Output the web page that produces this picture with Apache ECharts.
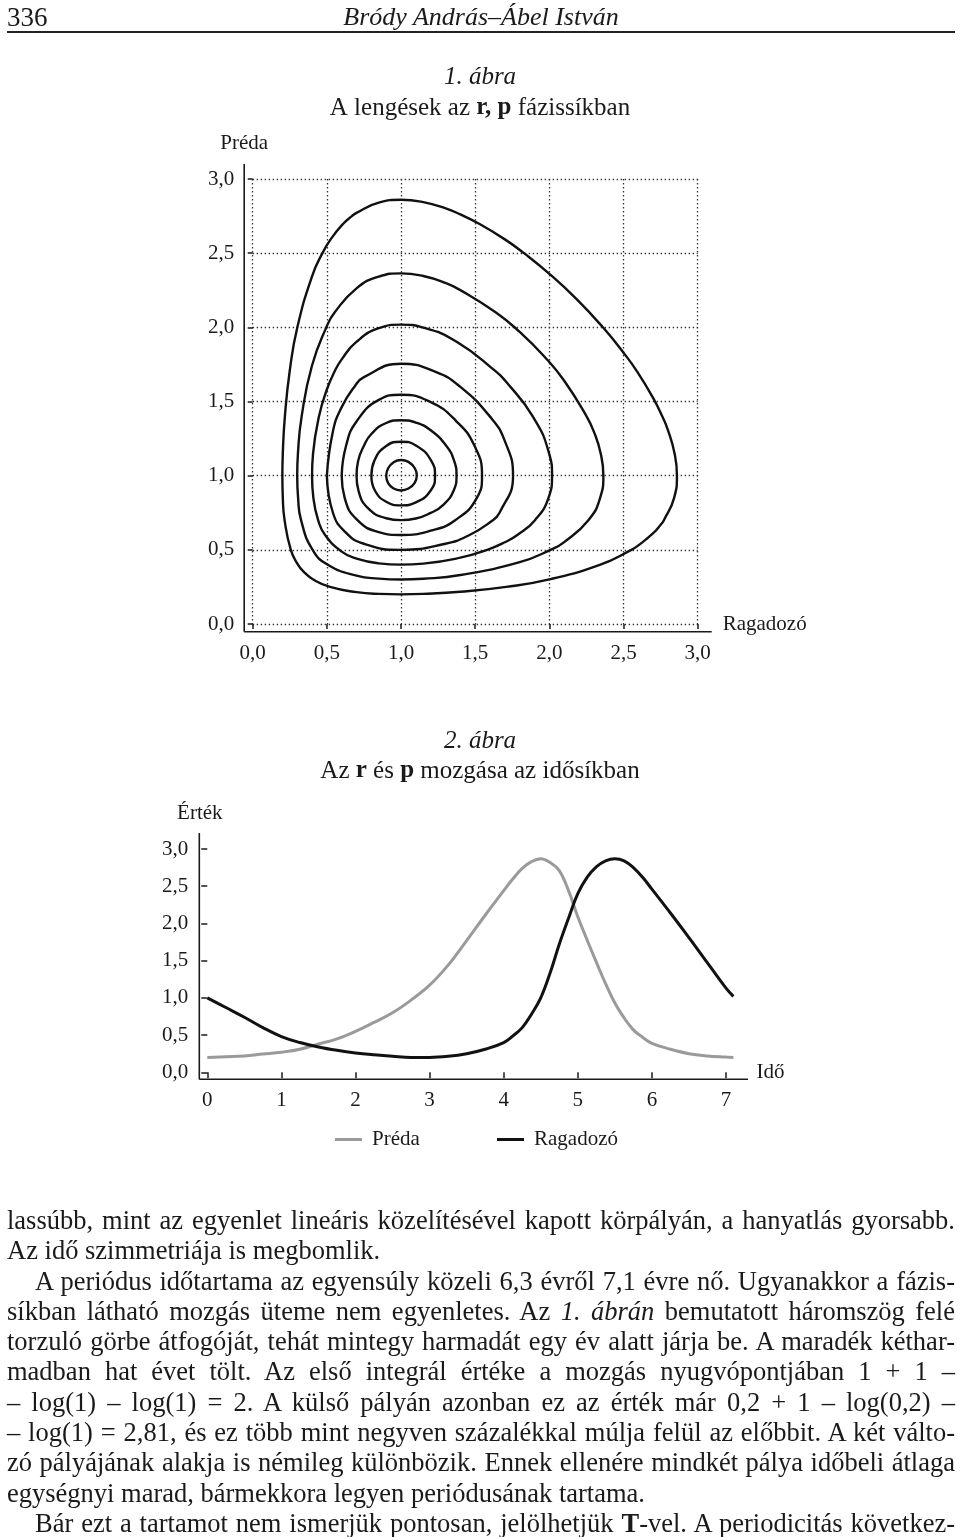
<!DOCTYPE html>
<html lang="hu">
<head>
<meta charset="utf-8">
<script src="https://cdn.jsdelivr.net/npm/echarts@6/dist/echarts.min.js"></script>
<style>
  html, body { margin: 0; padding: 0; background: #fff; }
  #page { position: relative; width: 960px; height: 1537px; overflow: hidden; }
  #chart { position: absolute; left: 0; top: 0; width: 960px; height: 1537px; }
  .serif { font-family: 'Liberation Serif', 'Times New Roman', 'DejaVu Serif', serif; color: #1a1a1a; }
  #pagenum { position: absolute; left: 7px; top: 2px; font-size: 27px; line-height: 30px; }
  #runhead { position: absolute; left: 0; width: 962px; top: 2px; text-align: center; font-size: 26px; line-height: 30px; font-style: italic; }
  #rule { position: absolute; left: 7px; width: 948px; top: 31px; height: 2px; background: #222; }
  #bodytext { position: absolute; left: 7px; width: 948px; top: 1205px; font-size: 26.5px; }
  .l { height: 30.3px; line-height: 30.3px; white-space: nowrap; }
  .j { text-align: justify; text-align-last: justify; }
  .ind { padding-left: 28px; }
</style>
</head>
<body>
<div id="page">
  <div id="chart"></div>
  <div id="pagenum" class="serif">336</div>
  <div id="runhead" class="serif">Bródy András–Ábel István</div>
  <div id="rule"></div>
  <div id="bodytext" class="serif">
    <div class="l j">lassúbb, mint az egyenlet lineáris közelítésével kapott körpályán, a hanyatlás gyorsabb.</div>
    <div class="l">Az idő szimmetriája is megbomlik.</div>
    <div class="l j ind">A periódus időtartama az egyensúly közeli 6,3 évről 7,1 évre nő. Ugyanakkor a fázis-</div>
    <div class="l j">síkban látható mozgás üteme nem egyenletes. Az <i>1. ábrán</i> bemutatott háromszög felé</div>
    <div class="l j">torzuló görbe átfogóját, tehát mintegy harmadát egy év alatt járja be. A maradék kéthar-</div>
    <div class="l j">madban hat évet tölt. Az első integrál értéke a mozgás nyugvópontjában 1 + 1 –</div>
    <div class="l j">– log(1) – log(1) = 2. A külső pályán azonban ez az érték már 0,2 + 1 – log(0,2) –</div>
    <div class="l j">– log(1) = 2,81, és ez több mint negyven százalékkal múlja felül az előbbit. A két válto-</div>
    <div class="l j">zó pályájának alakja is némileg különbözik. Ennek ellenére mindkét pálya időbeli átlaga</div>
    <div class="l">egységnyi marad, bármekkora legyen periódusának tartama.</div>
    <div class="l j ind">Bár ezt a tartamot nem ismerjük pontosan, jelölhetjük <b>T</b>-vel. A periodicitás következ-</div>
  </div>
</div>
<script>
// ---------- DATA ----------
// Figure 1: phase-plane orbits, points [Ragadozó, Préda]
const orbit1 = [[0.2,1],[0.203,1.15],[0.217,1.4],[0.25,1.709],[0.301,2],[0.4,2.344],[0.47,2.5],[0.53,2.6],[0.612,2.7],[0.669,2.75],[0.7,2.772],[0.85,2.841],[1,2.86],[1.15,2.844],[1.306,2.8],[1.4,2.761],[1.523,2.7],[1.7,2.593],[1.829,2.5],[2,2.361],[2.187,2.187],[2.361,2],[2.5,1.829],[2.593,1.7],[2.7,1.523],[2.761,1.4],[2.8,1.306],[2.844,1.15],[2.86,1],[2.841,0.85],[2.772,0.7],[2.75,0.669],[2.7,0.612],[2.6,0.53],[2.553,0.5],[2.344,0.4],[2,0.301],[1.709,0.25],[1.4,0.217],[1.15,0.203],[1,0.2],[0.85,0.203],[0.7,0.215],[0.521,0.25],[0.408,0.3],[0.348,0.348],[0.305,0.4],[0.257,0.5],[0.215,0.7],[0.203,0.85],[0.2,1]];
const orbit2 = [[0.3,1],[0.305,1.15],[0.33,1.4],[0.4,1.743],[0.5,2.008],[0.552,2.1],[0.7,2.263],[0.85,2.342],[1,2.364],[1.15,2.346],[1.297,2.3],[1.4,2.251],[1.64,2.1],[1.8,1.969],[1.969,1.8],[2.1,1.64],[2.251,1.4],[2.3,1.297],[2.346,1.15],[2.364,1],[2.342,0.85],[2.263,0.7],[2.1,0.552],[2.008,0.5],[1.8,0.417],[1.4,0.33],[1.15,0.305],[1,0.3],[0.85,0.306],[0.7,0.326],[0.506,0.4],[0.404,0.5],[0.326,0.7],[0.306,0.85],[0.3,1]];
const orbit3 = [[0.4,1],[0.407,1.15],[0.447,1.4],[0.5,1.581],[0.551,1.7],[0.6,1.784],[0.697,1.9],[0.85,1.994],[1,2.018],[1.15,1.998],[1.38,1.9],[1.643,1.7],[1.7,1.643],[1.888,1.4],[1.998,1.15],[2.018,1],[1.994,0.85],[1.903,0.7],[1.784,0.6],[1.7,0.551],[1.581,0.5],[1.4,0.447],[1.15,0.407],[1,0.4],[0.85,0.409],[0.7,0.441],[0.6,0.488],[0.488,0.6],[0.441,0.7],[0.409,0.85],[0.4,1]];
const orbit4 = [[0.5,1],[0.541,1.3],[0.6,1.462],[0.686,1.6],[0.75,1.664],[1,1.755],[1.233,1.7],[1.398,1.6],[1.6,1.398],[1.7,1.233],[1.755,1],[1.664,0.75],[1.6,0.686],[1.462,0.6],[1.3,0.541],[1,0.5],[0.75,0.541],[0.622,0.622],[0.541,0.75],[0.5,1]];
const orbit5 = [[0.6,1],[0.629,1.2],[0.7,1.365],[0.85,1.511],[1,1.546],[1.2,1.496],[1.37,1.37],[1.496,1.2],[1.546,1],[1.511,0.85],[1.365,0.7],[1.2,0.629],[1,0.6],[0.85,0.62],[0.703,0.703],[0.62,0.85],[0.6,1]];
const orbit6 = [[0.7,1],[0.711,1.1],[0.749,1.2],[0.8,1.281],[0.9,1.355],[1,1.374],[1.1,1.358],[1.2,1.306],[1.306,1.2],[1.358,1.1],[1.374,1],[1.355,0.9],[1.281,0.8],[1.2,0.749],[1.1,0.711],[1,0.7],[0.9,0.713],[0.779,0.779],[0.713,0.9],[0.7,1]];
const orbit7 = [[0.8,1],[0.82,1.1],[0.9,1.2],[1,1.229],[1.1,1.204],[1.204,1.1],[1.229,1],[1.2,0.9],[1.1,0.82],[1,0.8],[0.9,0.824],[0.824,0.9],[0.8,1]];
const orbit8 = [[0.9,1],[0.913,1.05],[0.95,1.091],[1,1.106],[1.05,1.093],[1.093,1.05],[1.106,1],[1.091,0.95],[1.05,0.913],[1,0.9],[0.95,0.913],[0.913,0.95],[0.9,1]];
const orbits = [orbit1, orbit2, orbit3, orbit4, orbit5, orbit6, orbit7, orbit8];

// Figure 2: time series
const time     = [0,0.25,0.5,0.75,1,1.25,1.5,1.75,2,2.25,2.5,2.75,3,3.25,3.5,3.75,4,4.125,4.25,4.375,4.5,4.625,4.75,4.875,5,5.125,5.25,5.375,5.5,5.625,5.75,5.875,6,6.25,6.5,6.75,7,7.1];
const preda    = [0.20,0.21,0.22,0.245,0.27,0.31,0.38,0.45,0.55,0.67,0.80,0.97,1.17,1.44,1.77,2.11,2.44,2.60,2.74,2.83,2.87,2.82,2.71,2.44,2.09,1.78,1.48,1.19,0.93,0.73,0.57,0.47,0.39,0.31,0.25,0.22,0.205,0.20];
const ragadozo = [1.00,0.87,0.74,0.60,0.48,0.40,0.34,0.295,0.26,0.235,0.215,0.20,0.20,0.215,0.25,0.31,0.40,0.49,0.60,0.78,1.00,1.33,1.72,2.07,2.40,2.62,2.76,2.84,2.87,2.84,2.75,2.62,2.46,2.14,1.81,1.47,1.13,1.02];

// Tick labels
const valueTickLabels = ['0,0','0,5','1,0','1,5','2,0','2,5','3,0'];
const timeTicks       = [0,1,2,3,4,5,6,7];
const timeTickLabels  = ['0','1','2','3','4','5','6','7'];
const seriesNames = ['Préda','Ragadozó'];

// ---------- STYLE ----------
const FF = "'Liberation Serif', 'Times New Roman', 'DejaVu Serif', serif";
const INK = '#1a1a1a';
const GRAY = '#9a9a9a';
const lbl = (arr, step) => (v) => {
  const i = Math.round(v / step);
  return (Math.abs(v - i * step) < 1e-6 && arr[i] !== undefined) ? arr[i] : '';
};
const txt = { fontFamily: FF, fontSize: 21, color: INK };

const chart = echarts.init(document.getElementById('chart'), null, { renderer: 'canvas' });

const G1 = { left: 252.7, top: 179, width: 445, height: 445 };
const G2 = { left: 207.3, top: 849, width: 526.1, height: 223.3 };

const titleStyle = { fontFamily: FF, fontSize: 25, fontWeight: 'normal', color: INK, lineHeight: 26 };
const boldRich = { b: { fontFamily: FF, fontSize: 25, fontWeight: 'bold', color: INK, lineHeight: 26 } };

const option = {
  animation: false,
  backgroundColor: 'transparent',
  title: [
    { text: '1. ábra', left: 'center', top: 64, padding: 0, textStyle: Object.assign({}, titleStyle, { fontStyle: 'italic' }) },
    { text: 'A lengések az {b|r, p} fázissíkban', left: 'center', top: 95, padding: 0, textStyle: Object.assign({}, titleStyle, { rich: boldRich }) },
    { text: '2. ábra', left: 'center', top: 728, padding: 0, textStyle: Object.assign({}, titleStyle, { fontStyle: 'italic' }) },
    { text: 'Az {b|r} és {b|p} mozgása az idősíkban', left: 'center', top: 758, padding: 0, textStyle: Object.assign({}, titleStyle, { rich: boldRich }) }
  ],
  legend: [
    { data: [seriesNames[0]], left: 335, top: 1129, padding: 0, icon: 'rect', itemWidth: 27, itemHeight: 3, textStyle: Object.assign({ padding: [0, 0, 0, 5] }, txt) },
    { data: [seriesNames[1]], left: 497, top: 1129, padding: 0, icon: 'rect', itemWidth: 27, itemHeight: 3, textStyle: Object.assign({ padding: [0, 0, 0, 5] }, txt) }
  ],
  grid: [
    Object.assign({ containLabel: false }, G1),
    Object.assign({ containLabel: false }, G2)
  ],
  xAxis: [
    {
      gridIndex: 0, type: 'value', min: 0, max: 3, interval: 0.5, offset: 7.7,
      name: 'Ragadozó', nameLocation: 'end', nameGap: 25,
      nameTextStyle: Object.assign({}, txt, { align: 'left', verticalAlign: 'middle' }),
      axisLine: { show: false },
      axisTick: { show: true, length: 5, lineStyle: { color: INK, width: 1.5 } },
      axisLabel: Object.assign({ margin: 11, formatter: lbl(valueTickLabels, 0.5) }, txt),
      splitLine: { show: true, lineStyle: { color: '#333', width: 1.3, type: [1.4, 2.6] } }
    },
    {
      gridIndex: 1, type: 'value', min: 0, max: 7.1, offset: 7,
      name: 'Idő', nameLocation: 'end', nameGap: 23,
      nameTextStyle: Object.assign({}, txt, { align: 'left', verticalAlign: 'middle' }),
      axisLine: { show: false },
      axisTick: { show: true, length: 6, customValues: timeTicks, lineStyle: { color: INK, width: 1.5 } },
      axisLabel: Object.assign({ margin: 11, customValues: timeTicks, formatter: lbl(timeTickLabels, 1) }, txt),
      splitLine: { show: false }
    }
  ],
  yAxis: [
    {
      gridIndex: 0, type: 'value', min: 0, max: 3, interval: 0.5, offset: 8.5,
      name: 'Préda', nameLocation: 'end', nameGap: 36,
      nameTextStyle: Object.assign({}, txt, { align: 'center', verticalAlign: 'middle', padding: [0, 17, 0, 0] }),
      axisLine: { show: false },
      axisTick: { show: true, length: 5, lineStyle: { color: INK, width: 1.5 } },
      axisLabel: Object.assign({ margin: 10, formatter: lbl(valueTickLabels, 0.5) }, txt),
      splitLine: { show: true, lineStyle: { color: '#333', width: 1.3, type: [1.4, 2.6] } }
    },
    {
      gridIndex: 1, type: 'value', min: 0, max: 3, interval: 0.5, offset: 8,
      name: 'Érték', nameLocation: 'end', nameGap: 36,
      nameTextStyle: Object.assign({}, txt, { align: 'center', verticalAlign: 'middle', padding: [0, 15, 0, 0] }),
      axisLine: { show: false },
      axisTick: { show: true, length: 6, lineStyle: { color: INK, width: 1.5 } },
      axisLabel: Object.assign({ margin: 11, formatter: lbl(valueTickLabels, 0.5) }, txt),
      splitLine: { show: false }
    }
  ],
  series: [
    ...orbits.map((pts, k) => ({
      name: 'pálya ' + (k + 1), type: 'line', xAxisIndex: 0, yAxisIndex: 0,
      data: pts, smooth: 0.5, showSymbol: false, symbol: 'none', clip: false,
      lineStyle: { color: '#111', width: 2.4 }, itemStyle: { color: '#111' }
    })),
    {
      name: seriesNames[0], type: 'line', xAxisIndex: 1, yAxisIndex: 1,
      data: time.map((t, i) => [t, preda[i]]), smooth: 0.4, showSymbol: false, symbol: 'none', clip: false,
      lineStyle: { color: GRAY, width: 3 }, itemStyle: { color: GRAY }
    },
    {
      name: seriesNames[1], type: 'line', xAxisIndex: 1, yAxisIndex: 1,
      data: time.map((t, i) => [t, ragadozo[i]]), smooth: 0.4, showSymbol: false, symbol: 'none', clip: false,
      lineStyle: { color: '#111', width: 3 }, itemStyle: { color: '#111' }
    }
  ]
};
chart.setOption(option);

// Axis lines (extend past the plotting area, as in the printed figure)
const a0 = chart.convertToPixel({ gridIndex: 0 }, [0, 0]);
const a1 = chart.convertToPixel({ gridIndex: 0 }, [3, 3]);
const b0 = chart.convertToPixel({ gridIndex: 1 }, [0, 0]);
const b1 = chart.convertToPixel({ gridIndex: 1 }, [7, 3]);
const ax = { stroke: INK, lineWidth: 1.6 };
const yX1 = a0[0] - 8.5, xY1 = a0[1] + 7.7;
const yX2 = b0[0] - 8, xY2 = b0[1] + 7;
chart.setOption({
  graphic: { elements: [
    { type: 'line', shape: { x1: yX1, y1: a1[1] - 15, x2: yX1, y2: xY1 }, style: ax, silent: true },
    { type: 'line', shape: { x1: yX1, y1: xY1, x2: a1[0] + 14, y2: xY1 }, style: ax, silent: true },
    { type: 'line', shape: { x1: yX2, y1: b1[1] - 16, x2: yX2, y2: xY2 }, style: ax, silent: true },
    { type: 'line', shape: { x1: yX2, y1: xY2, x2: b1[0] + 22, y2: xY2 }, style: ax, silent: true }
  ] }
});
</script>
</body>
</html>
